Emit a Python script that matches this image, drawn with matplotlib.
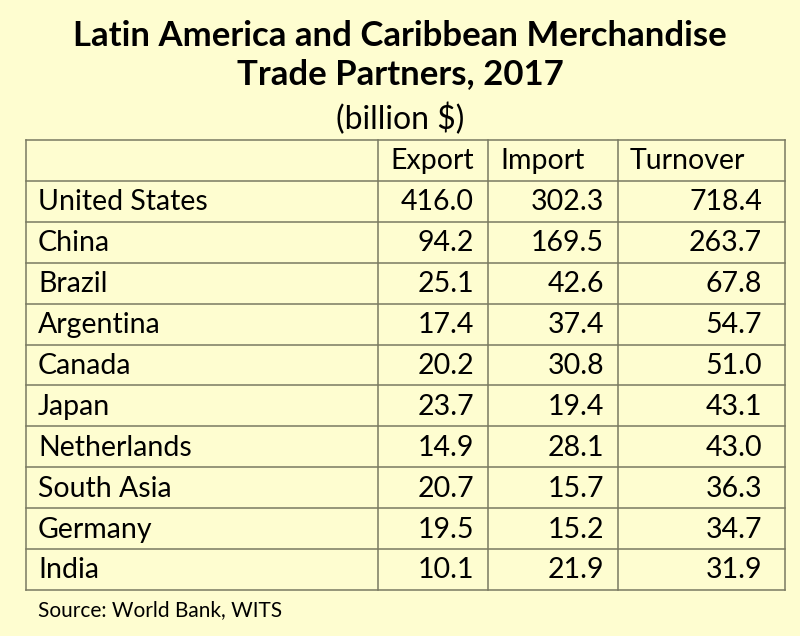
import matplotlib
matplotlib.use("Agg")
import matplotlib.pyplot as plt

# ---------- data ----------
title = "Latin America and Caribbean Merchandise\nTrade Partners, 2017"
subtitle = "(billion $)"
columns = ["Export", "Import", "Turnover"]
partners = ["United States", "China", "Brazil", "Argentina", "Canada", "Japan",
            "Netherlands", "South Asia", "Germany", "India"]
export = [416.0, 94.2, 25.1, 17.4, 20.2, 23.7, 14.9, 20.7, 19.5, 10.1]
imports = [302.3, 169.5, 42.6, 37.4, 30.8, 19.4, 28.1, 15.7, 15.2, 21.9]
turnover = [718.4, 263.7, 67.8, 54.7, 51.0, 43.1, 43.0, 36.3, 34.7, 31.9]
source = "Source: World Bank, WITS"

BG = "#fefdd0"
LINE = "#7a7a62"
FONT = "Lato"

# ---------- layout (pixel coords) ----------
W, H = 800, 636
col_x = [26, 378, 488, 618, 785]
top, row_h = 140, 40.9
nrows = len(partners) + 1

fig = plt.figure(figsize=(W / 100, H / 100), dpi=100, facecolor=BG)
ax = fig.add_axes([0, 0, 1, 1])
ax.set_xlim(0, W); ax.set_ylim(H, 0)
ax.axis("off")
ax.set_facecolor(BG)

ax.text(400, 55, title, ha="center", va="center", fontsize=25, fontweight="bold",
        family=FONT, linespacing=1.25)
ax.text(400, 119, subtitle, ha="center", va="center", fontsize=23, family=FONT)

bottom = top + nrows * row_h
for i in range(nrows + 1):
    y = top + i * row_h
    ax.plot([col_x[0], col_x[-1]], [y, y], color=LINE, lw=1.1)
for x in col_x:
    ax.plot([x, x], [top, bottom], color=LINE, lw=1.1)

fs = 20.5
for j, c in enumerate(columns):
    ax.text(col_x[j + 1] + 12, top + row_h / 2 + 1, c, ha="left", va="center",
            fontsize=fs, family=FONT)

for i, name in enumerate(partners):
    yc = top + (i + 1.5) * row_h + 1
    ax.text(col_x[0] + 12, yc, name, ha="left", va="center", fontsize=fs, family=FONT)
    for j, vals in enumerate([export, imports, turnover]):
        ax.text(col_x[j + 2] - 14 if j < 2 else col_x[-1] - 23, yc, f"{vals[i]:.1f}",
                ha="right", va="center", fontsize=fs, family=FONT)

ax.text(38, 610, source, ha="left", va="center", fontsize=15, family=FONT)

fig.savefig("out.png", dpi=100, facecolor=BG)
